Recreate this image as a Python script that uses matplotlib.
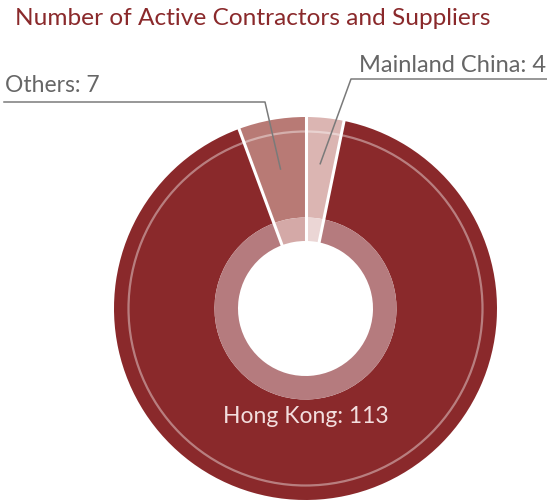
import numpy as np
import matplotlib.pyplot as plt
from matplotlib.patches import Circle

plt.rcParams['font.family'] = ['Lato', 'DejaVu Sans']

# data, clockwise from the top
regions = ["Mainland China", "Hong Kong", "Others"]
counts = [4, 113, 7]
outer_colors = ["#dbb5b2", "#8a292b", "#b87a75"]
inner_colors = ["#ebd6d5", "#b57b7e", "#d4a9a7"]

W, H = 547, 502
fig = plt.figure(figsize=(W/100, H/100), dpi=100)
ax = fig.add_axes([0, 0, 1, 1])

cx, cy = 305.5, H - 309.5
R = 191.5
r_mid = 91
r_hole = 67.5

ax.pie(counts, colors=outer_colors, startangle=90, counterclock=False,
       radius=R, center=(cx, cy), wedgeprops=dict(width=R - r_mid, linewidth=0))
ax.pie(counts, colors=inner_colors, startangle=90, counterclock=False,
       radius=r_mid, center=(cx, cy), wedgeprops=dict(width=r_mid - r_hole, linewidth=0))

# thin light ring inside the outer band
ax.add_patch(Circle((cx, cy), 177, fill=False, edgecolor="white", alpha=0.4, lw=1.6))

# white separators between the slices
total = sum(counts)
angles = 90 - 360 * np.cumsum([0] + counts[:-1]) / total
for a in angles:
    t = np.radians(a)
    ax.plot([cx + (r_hole - 1) * np.cos(t), cx + (R + 2) * np.cos(t)],
            [cy + (r_hole - 1) * np.sin(t), cy + (R + 2) * np.sin(t)],
            color="white", lw=2.2, solid_capstyle="butt")

mids = angles - 180 * np.array(counts) / total

grey = "#666666"
# Others label
t = np.radians(mids[2])
px, py = cx + 0.74 * R * np.cos(t), cy + 0.74 * R * np.sin(t)
ax.plot([4, 265, px], [H - 103, H - 103, py], color="#7a7a7a", lw=1.1)
ax.text(5, H - 92, f"{regions[2]}: {counts[2]}", color=grey, fontsize=16.5,
        ha="left", va="baseline", zorder=5)

# Mainland China label
t = np.radians(mids[0])
px, py = cx + 0.76 * R * np.cos(t), cy + 0.76 * R * np.sin(t)
ax.plot([547, 351, px], [H - 80, H - 80, py], color="#7a7a7a", lw=1.1)
ax.text(546, H - 72, f"{regions[0]}: {counts[0]}", color=grey, fontsize=17,
        ha="right", va="baseline", zorder=5)

# Hong Kong label
ax.text(306, H - 423, f"{regions[1]}: {counts[1]}", color="#f3dede", fontsize=16.5,
        ha="center", va="baseline", zorder=5)

ax.text(15, H - 25, "Number of Active Contractors and Suppliers", color="#8a292b",
        fontsize=17.6, ha="left", va="baseline", zorder=5)

ax.set_xlim(0, W)
ax.set_ylim(0, H)
ax.set_aspect("equal")
ax.axis("off")

fig.savefig("out.png", dpi=100)
